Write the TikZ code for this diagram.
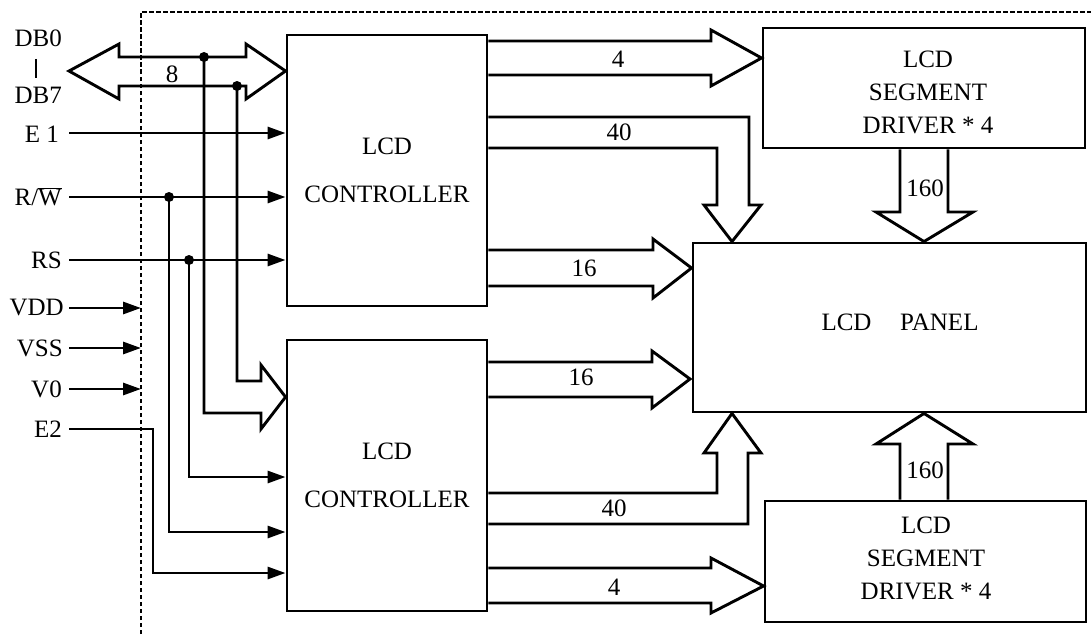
\documentclass[tikz,border=0pt]{standalone}
\usepackage{fontspec}
\setmainfont{Liberation Serif}
\usetikzlibrary{arrows.meta,calc}
\begin{document}
\begin{tikzpicture}[x=1pt,y=-1pt,
  lw/.style={line width=2.9pt},
  blockbox/.style={draw,lw,rectangle,inner sep=0pt,align=center},
  ctrlbox/.style={blockbox,minimum width=200pt,minimum height=271pt,font=\fontsize{25}{48}\selectfont},
  segbox/.style={blockbox,font=\fontsize{25}{33}\selectfont},
  pin/.style={anchor=east,inner sep=0pt,font=\fontsize{25}{30}\selectfont},
  lbl/.style={inner sep=0pt,font=\fontsize{25}{30}\selectfont},
  sig/.style={lw,-{Triangle[length=18pt,width=12pt]}},
  bus/.style={lw,line join=miter},
  dotc/.style={fill,circle,inner sep=0pt,minimum size=10pt},
  frame/.style={line width=2pt,dash pattern=on 4.5pt off 2.5pt}]
\useasboundingbox (0,0) rectangle (1091,634);

% frame
\draw[frame] (141,634) -- (141,12) -- (1091,12);

% blocks
\node[ctrlbox] (c1) at (387,170.5) {LCD\\CONTROLLER};
\node[ctrlbox] (c2) at (387,475.5) {LCD\\CONTROLLER};
\node[segbox,minimum width=322pt,minimum height=120pt] (s1) at (924,88) {};
\node[segbox,minimum width=321pt,minimum height=121pt] (s2) at (925.5,561.5) {};
\node[blockbox,minimum width=393pt,minimum height=169pt] (p) at (889.5,327.5) {};
\node[lbl] (ptext) at (900,322) {LCD\hspace{1.15em}PANEL};
\node[lbl,font=\fontsize{25}{33}\selectfont,align=center] (s1text) at (928,92.5) {LCD\\SEGMENT\\DRIVER * 4};
\node[lbl,font=\fontsize{25}{33}\selectfont,align=center] (s2text) at (926,558) {LCD\\SEGMENT\\DRIVER * 4};

% pin labels
\node[pin] (db0) at (62,38) {DB0};
\node[pin] (db7) at (62,95) {DB7};
\node[pin] (e1) at (59,134) {E 1};
\node[pin] (rw) at (62,197) {R/$\overline{\hbox{W}}$};
\node[pin] (rs) at (62,260) {RS};
\node[pin] (vdd) at (64,308) {VDD};
\node[pin] (vss) at (63,348) {VSS};
\node[pin] (v0) at (62,389) {V0};
\node[pin] (e2) at (62,429) {E2};
\draw[lw] (36,59) -- (36,78);

% coordinates of wire starts
\coordinate (e1s) at (69,133);
\coordinate (rws) at (69,197);
\coordinate (rss) at (69,260);
\coordinate (vdds) at (69,308);
\coordinate (vsss) at (69,348);
\coordinate (v0s) at (69,389);
\coordinate (e2s) at (69,429);

% data bus (double arrow)
\draw[bus] (119,57) -- (119,44) -- (69,71) -- (119,99) -- (119,86) -- (246,86)
  -- (246,99) -- (c1.west |- 0,71) -- (246,44) -- (246,57) -- cycle;
\node[lbl] (eight) at (172,74) {8};
\node[dotc] (d1) at (204,57) {};
\node[dotc] (d2) at (237,86) {};
\draw[bus] (d2.center) -- (237,381) -- (261,381) -- (261,365) -- (c2.west |- 0,397)
  -- (261,429) -- (261,413) -- (204,413) -- (d1.center);

% control signals
\draw[sig] (e1s) -- (e1s -| c1.west);
\draw[sig] (rws) -- (rws -| c1.west);
\draw[sig] (rss) -- (rss -| c1.west);
\node[dotc] (d3) at (169,197) {};
\node[dotc] (d4) at (189,260) {};
\draw[sig] (d4.center) -- (189,477) -- (c2.west |- 0,477);
\draw[sig] (d3.center) -- (169,532) -- (c2.west |- 0,532);
\draw[sig] (e2s) -- (153,429) -- (153,573) -- (c2.west |- 0,573);

% power
\draw[sig] (vdds) -- (141,308);
\draw[sig] (vsss) -- (141,348);
\draw[sig] (v0s) -- (141,389);

% controller 1 outputs
\draw[bus] (c1.east |- 0,41) -- (711,41) -- (711,30) -- (s1.west |- 0,58) -- (711,86) -- (711,75) -- (c1.east |- 0,75);
\node[lbl] (l4a) at (618,59) {4};
\draw[bus] (c1.east |- 0,117) -- (749,117) -- (749,205) -- (761,205) -- (p.north -| 732,0)
  -- (704,205) -- (717,205) -- (717,148) -- (c1.east |- 0,148);
\node[lbl] (l40a) at (619,132) {40};
\draw[bus] (c1.east |- 0,250) -- (653,250) -- (653,239) -- (p.west |- 0,268) -- (653,298) -- (653,286) -- (c1.east |- 0,286);
\node[lbl] (l16a) at (584,268) {16};

% controller 2 outputs
\draw[bus] (c2.east |- 0,362) -- (652,362) -- (652,351) -- (690,379) -- (652,408) -- (652,397) -- (c2.east |- 0,397);
\node[lbl] (l16b) at (581,377) {16};
\draw[bus] (c2.east |- 0,493) -- (717,493) -- (717,453) -- (704,453) -- (p.south -| 732,0)
  -- (761,453) -- (748,453) -- (748,524) -- (c2.east |- 0,524);
\node[lbl] (l40b) at (614,508) {40};
\draw[bus] (c2.east |- 0,568) -- (711,568) -- (711,558) -- (s2.west |- 0,586) -- (711,613) -- (711,603) -- (c2.east |- 0,603);
\node[lbl] (l4b) at (614,587) {4};

% segment driver to panel
\draw[bus] (s1.south -| 900,0) -- (900,212) -- (876,212) -- (p.north -| 924,0) -- (973,212) -- (948,212) -- (s1.south -| 948,0);
\node[lbl] (l160a) at (925,188) {160};
\draw[bus] (s2.north -| 900,0) -- (900,444) -- (876,444) -- (p.south -| 924,0) -- (973,444) -- (948,444) -- (s2.north -| 948,0);
\node[lbl] (l160b) at (925,470) {160};
\end{tikzpicture}
\end{document}
